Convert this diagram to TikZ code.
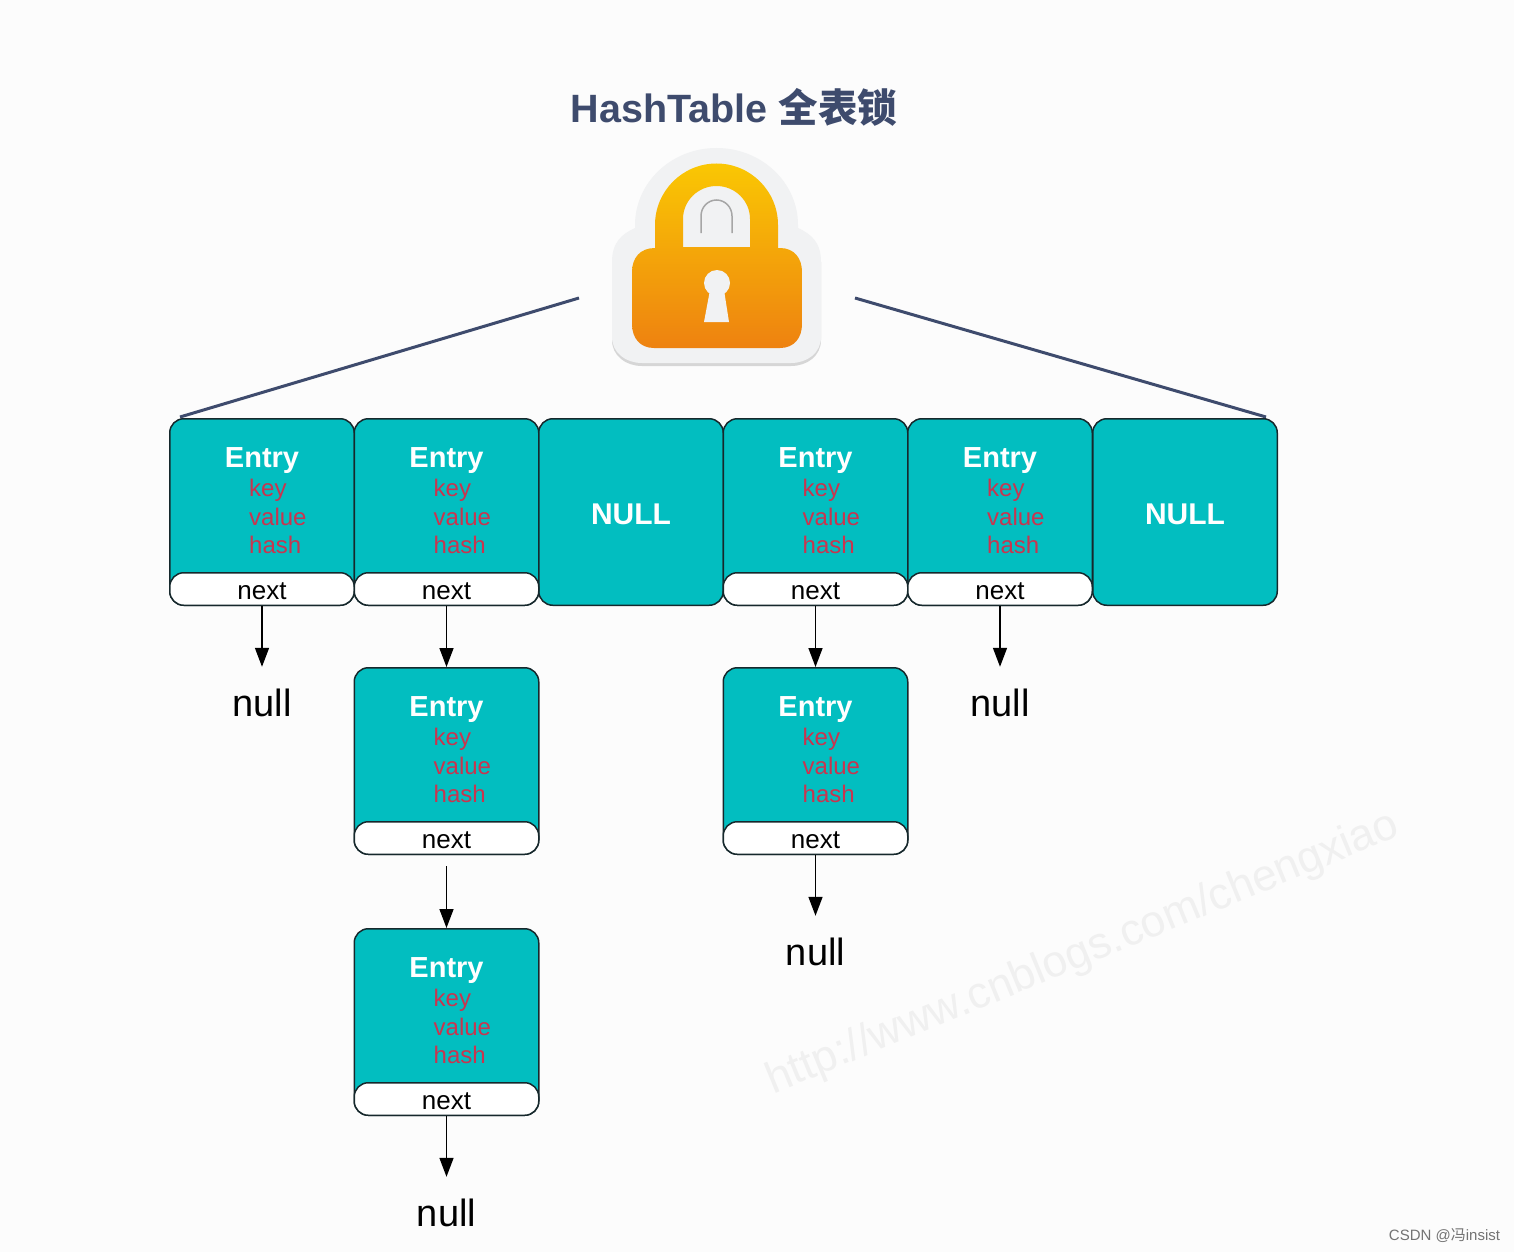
\documentclass[tikz,border=0pt]{standalone}
\usepackage{fontspec}
\setmainfont{Liberation Sans}
\newfontfamily\cjk{Noto Sans CJK SC}
\usetikzlibrary{arrows.meta}
\definecolor{tealfill}{HTML}{02BEC0}
\definecolor{edgedark}{HTML}{16282C}
\definecolor{fieldred}{HTML}{C9354F}
\definecolor{slateblue}{HTML}{3E4B6D}
\definecolor{stickergray}{HTML}{F1F2F3}
\definecolor{locktop}{HTML}{FAC703}
\definecolor{lockmid}{HTML}{F5A80D}
\definecolor{lockbottom}{HTML}{EE8210}
\begin{document}
\begin{tikzpicture}[
  x=1pt, y=-1pt,
  >={Triangle[length=19pt,width=14pt]},
  entrybody/.style={draw=edgedark, line width=1.5pt, rounded corners=14pt, fill=tealfill,
              minimum width=184.5pt, minimum height=186.5pt, inner sep=0pt},
  nextbox/.style={draw=edgedark, line width=1.5pt, rounded corners=14pt, fill=white,
              minimum width=184.5pt, minimum height=32.5pt, inner sep=0pt,
              text height=20pt, text depth=0pt,
              font=\fontsize{26}{26}\selectfont, text=black},
  entrylbl/.style={font=\fontsize{29}{29}\selectfont\bfseries, text=white, inner sep=0pt},
  nulllbl/.style={font=\fontsize{30}{30}\selectfont\bfseries, text=white, inner sep=0pt},
  fields/.style={anchor=west, align=left, inner sep=0pt, text=fieldred,
              font=\fontsize{24}{28.7}\selectfont},
  nullbox/.style={minimum width=60pt, minimum height=72pt, inner sep=0pt,
              font=\fontsize{38}{38}\selectfont, text=black},
  arr/.style={->, line width=1.5pt, draw=black},
  lockline/.style={line width=3pt, draw=slateblue},
]
\useasboundingbox (0,0) rectangle (1514,1252);
\fill[white!99!black] (0,0) rectangle (1514,1252);

% === Watermark and title ===
\node[rotate=22.4, text=black!6, font=\fontsize{44.3}{44.3}\selectfont] (mark) at (1083,954) {http://www.cnblogs.com/chengxiao};
\node[text=slateblue, inner sep=0pt, font=\fontsize{39.5}{39.5}\selectfont\bfseries] (title) at (734,107) {HashTable {\cjk 全表锁}};

% === Lock ===
\fill[black!16] (612,262) -- (612,340) .. controls (612,356) and (626,366) .. (642,366)
  -- (791,366) .. controls (807,366) and (821,356) .. (821,340) -- (821,262) -- cycle;
\fill[stickergray] (612,262) .. controls (612,242) and (622,234) .. (635,228) -- (635,225)
  arc[start angle=180, end angle=360, x radius=81.5, y radius=77] -- (798,228)
  .. controls (811,234) and (821,242) .. (821,262)
  -- (821,337) .. controls (821,353) and (807,363) .. (791,363)
  -- (642,363) .. controls (626,363) and (612,353) .. (612,337) -- cycle;
\shade[top color=locktop, middle color=lockmid, bottom color=lockbottom, even odd rule]
  (655,248) -- (655,225) arc[start angle=180, end angle=360, x radius=61.5, y radius=61.5]
  -- (778,248) -- (780,248) .. controls (794,248) and (802,258) .. (802,272)
  -- (802,324) .. controls (802,338) and (794,348) .. (780,348)
  -- (654,348) .. controls (640,348) and (632,338) .. (632,324)
  -- (632,272) .. controls (632,258) and (640,248) .. (655,248) -- cycle
  (683,247) -- (683,219) arc[start angle=180, end angle=360, x radius=33.5, y radius=33]
  -- (750,247) -- cycle;
\draw[black!35, line width=1.5pt] (701,233) -- (701,216) arc[start angle=180, end angle=360, x radius=15.5, y radius=16] -- (732,233);
\fill[stickergray] (717,283) circle[radius=13];
\fill[stickergray] (710,290) -- (724,290) -- (729,322) -- (704,322) -- cycle;

% === Lock lines ===
\coordinate (lockleft) at (579,298);
\coordinate (lockright) at (855,298);
\coordinate (tableleft) at (180,417);
\coordinate (tableright) at (1266,417);
\draw[lockline] (lockleft) -- (tableleft);
\draw[lockline] (lockright) -- (tableright);

% === Top row ===
\node[entrybody] (e1) at (262,512) {};
\node[entrybody] (e2) at (446.5,512) {};
\node[entrybody] (e3) at (631,512) {};
\node[entrybody] (e4) at (815.5,512) {};
\node[entrybody] (e5) at (1000,512) {};
\node[entrybody] (e6) at (1185,512) {};

\node[nulllbl] (t3) at (631,514) {NULL};
\node[nulllbl] (t6) at (1185,514) {NULL};

\node[nextbox] (n1) at (262,589) {next};
\node[nextbox] (n2) at (446.5,589) {next};
\node[nextbox] (n4) at (815.5,589) {next};
\node[nextbox] (n5) at (1000,589) {next};

\node[entrylbl] (t1) at (262,460.5) {Entry};
\node[entrylbl] (t2) at (446.5,460.5) {Entry};
\node[entrylbl] (t4) at (815.5,460.5) {Entry};
\node[entrylbl] (t5) at (1000,460.5) {Entry};

\node[fields] (f1) at (249,516.5) {key\\value\\hash};
\node[fields] (f2) at (433.5,516.5) {key\\value\\hash};
\node[fields] (f4) at (802.5,516.5) {key\\value\\hash};
\node[fields] (f5) at (987,516.5) {key\\value\\hash};

% === Chained entries ===
\node[entrybody] (e7) at (446.5,761) {};
\node[nextbox] (n7) at (446.5,838) {next};
\node[entrylbl] (t7) at (446.5,709.5) {Entry};
\node[fields] (f7) at (433.5,765.5) {key\\value\\hash};

\node[entrybody] (e8) at (446.5,1022) {};
\node[nextbox] (n8) at (446.5,1099) {next};
\node[entrylbl] (t8) at (446.5,970.5) {Entry};
\node[fields] (f8) at (433.5,1026.5) {key\\value\\hash};

\node[entrybody] (e9) at (815.5,761) {};
\node[nextbox] (n9) at (815.5,838) {next};
\node[entrylbl] (t9) at (815.5,709.5) {Entry};
\node[fields] (f9) at (802.5,765.5) {key\\value\\hash};

% === null ends ===
\node[nullbox] (null1) at (262,703) {null};
\node[nullbox] (null5) at (1000,703) {null};
\node[nullbox] (null9) at (815.5,952) {null};
\node[nullbox] (null8) at (446.5,1213) {null};

% Arrows
\draw[arr] (n1) -- (null1);
\draw[arr] (n2) -- (e7);
\draw[arr] (n4) -- (e9);
\draw[arr] (n5) -- (null5);
\draw[arr, shorten <=11pt] (n7) -- (e8);
\draw[arr] (n8) -- (null8);
\draw[arr] (n9) -- (null9);

\node[text=black!55, inner sep=0pt, font=\fontsize{15}{15}\selectfont] (csdn) at (1444.5,1236) {CSDN @{\cjk 冯}insist};
\end{tikzpicture}
\end{document}
